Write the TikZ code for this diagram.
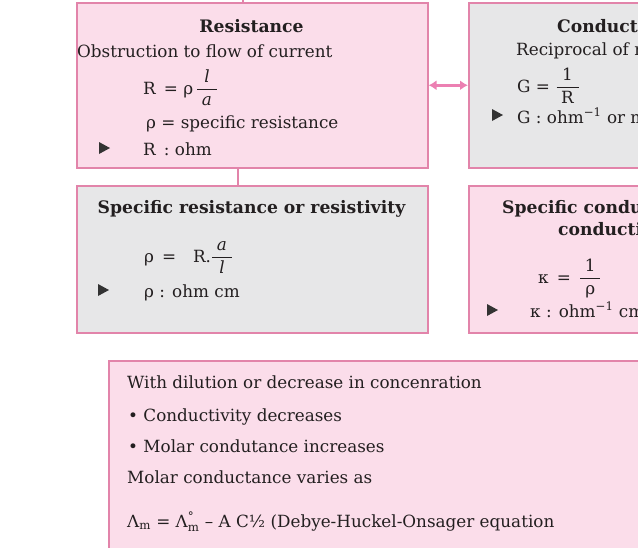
\RequirePackage{fix-cm}
\documentclass[tikz,border=0pt]{standalone}
\usepackage{amsmath}
\usepackage{fontspec}
\setmainfont{DejaVu Serif}
\usetikzlibrary{arrows.meta}

\definecolor{boxpink}{RGB}{251,221,234}
\definecolor{boxgray}{RGB}{231,231,232}
\definecolor{edgepink}{RGB}{226,132,170}
\definecolor{arrowpink}{RGB}{236,128,178}
\definecolor{ink}{RGB}{35,31,32}

\newcommand*{\lw}{351pt}
\newcommand*{\rw}{288pt}
\newcommand*{\toph}{165pt}
\newcommand*{\midh}{147pt}
\newcommand*{\fr}[2]{$\dfrac{\;\text{#1}\;}{\;\text{#2}\;}$}

\begin{document}
\begin{tikzpicture}
[
	x=1pt, y=-1pt,
	pinkbox/.style={draw=edgepink, fill=boxpink, line width=1.5pt, anchor=north west, inner sep=0pt},
	graybox/.style={pinkbox, fill=boxgray},
	txt/.style={anchor=base west, inner sep=0pt, text=ink, font=\fontsize{16.8}{20}\selectfont},
	ttl/.style={txt, font=\fontsize{17.2}{20}\selectfont\bfseries},
	link/.style={edgepink, line width=1.5pt},
	twoway/.style={arrowpink, line width=2.5pt, {Latex[length=8pt,width=10pt]}-{Latex[length=8pt,width=10pt]}}
]

	\useasboundingbox (0,0) rectangle (638,547);
	\clip (0,0) rectangle (638,547);

	% boxes
	\node[pinkbox, minimum width=\lw, minimum height=\toph] (res) at (76,2) {};
	\node[graybox, minimum width=\rw, minimum height=\toph] (con) at (468,2) {};
	\node[graybox, minimum width=\lw, minimum height=\midh] (rho) at (76,185) {};
	\node[pinkbox, minimum width=\rw, minimum height=\midh] (kap) at (468,185) {};
	\node[pinkbox, minimum width=660pt, minimum height=260pt] (dil) at (108,360) {};

	% links
	\coordinate (j0) at (243,-6);
	\coordinate (j1) at (238,167);
	\draw[link] (j0) -- (j0 |- res.north);
	\draw[link] (j1) -- (j1 |- rho.north);
	\draw[twoway] (res.east) -- (con.west);

	% resistance
	\node[ttl, anchor=base] (res-t) at (251.5,32) {Resistance};
	\node[txt] (res-d) at (77,57) {Obstruction to flow of current};
	\node[txt] (res-f) at (143,94) {R\,\ = ρ\,\fr{\itshape l}{\itshape a}};
	\node[txt] (res-r) at (146,128) {ρ = specific resistance};
	\node[txt] (res-u) at (143,155) {R\, : ohm};

	% conductance
	\node[ttl] (con-t) at (557,32) {Conductance};
	\node[txt] (con-d) at (516,55) {Reciprocal of resistance};
	\node[txt] (con-f) at (517,92) {G = \fr{1}{R}};
	\node[txt] (con-u) at (517,123) {G : ohm\textsuperscript{−1} or mho};

	% resistivity
	\node[ttl, anchor=base] (rho-t) at (251.5,213) {Specific resistance or resistivity};
	\node[txt] (rho-f) at (144,262) {ρ \,=\,\hspace{14pt}R.\fr{\itshape a}{\itshape l}};
	\node[txt] (rho-u) at (144,297) {ρ : ohm cm};

	% conductivity
	\node[ttl] (kap-t1) at (502,213) {Specific conductance or};
	\node[ttl] (kap-t2) at (558,235) {conductivity};
	\node[txt] (kap-f) at (538,283) {κ \,=\, \fr{1}{ρ}};
	\node[txt] (kap-u) at (530,317) {κ : ohm\textsuperscript{−1} cm\textsuperscript{−1}};

	% markers
	\foreach \x/\y in {99/155, 492/122, 98/297, 487/317}
		\fill[black!80] (\x,\y-1) -- (\x+11,\y-7) -- (\x,\y-13) -- cycle;

	% dilution
	\node[txt] (dil-a) at (127,388) {With dilution or decrease in concenration};
	\node[txt] (dil-b) at (128,421) {• Conductivity decreases};
	\node[txt] (dil-c) at (128,452) {• Molar condutance increases};
	\node[txt] (dil-d) at (127,483) {Molar conductance varies as};
	\node[txt] (dil-e) at (127,527) {Λ\textsubscript{m} = Λ$^{\text{°}}_{\text{m}}$ – A C½ (Debye-Huckel-Onsager equation};

\end{tikzpicture}
\end{document}
